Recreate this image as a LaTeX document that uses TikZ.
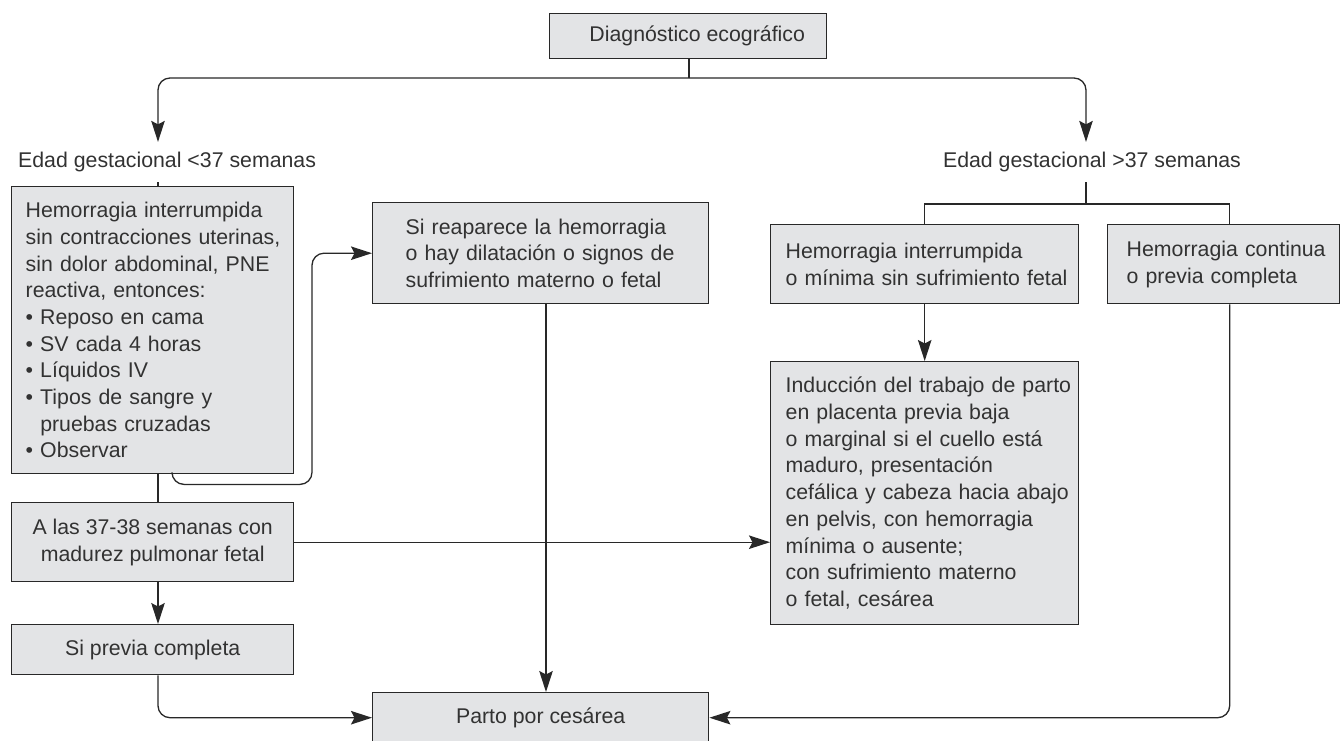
\documentclass[tikz,border=0pt]{standalone}
\usepackage{fontspec}
\setmainfont{Liberation Sans}
\usetikzlibrary{arrows.meta,positioning,calc}
\definecolor{boxgray}{RGB}{227,228,230}
\definecolor{inkgray}{RGB}{40,40,40}
\definecolor{textgray}{RGB}{50,50,50}
\newcommand{\bpt}{\textbullet\ }

\begin{document}
\begin{tikzpicture}[
  x=1pt,y=-1pt,
  font=\fontsize{21.3}{26.7}\selectfont,
  text=textgray,
  box/.style={draw=inkgray,fill=boxgray,line width=1.4pt,inner sep=0pt,
              anchor=north west,align=center},
  leftbox/.style={box,align=left,execute at begin node={\leftskip=#1}},
  lbl/.style={inner xsep=0pt,inner ysep=10pt},
  line/.style={inkgray,line width=1.3pt},
  arr/.style={line,-{Stealth[length=21pt,width=13.5pt,inset=3.5pt]}},
  roundbend/.style={rounded corners=12pt}
]
\useasboundingbox (0,0) rectangle (1341,740);
\node[box,minimum width=277pt,minimum height=45pt] (diag) at (549,13) {\hspace*{18pt}Diagnóstico ecográfico};
\node[lbl,anchor=west] (lblL) at (18,162) {Edad gestacional <37 semanas};
\node[lbl] (lblR) at (1092,162) {Edad gestacional >37 semanas};
\node[leftbox=14pt,text width=282pt,minimum height=287pt] (cond) at (11,186)
  {Hemorragia interrumpida\\ sin contracciones uterinas,\\ sin dolor abdominal, PNE\\
   reactiva, entonces:\\ \bpt Reposo en cama\\ \bpt SV cada 4 horas\\ \bpt Líquidos IV\\
   \bpt Tipos de sangre y\\ \hphantom{\bpt}pruebas cruzadas\\ \bpt Observar};
\node[leftbox=33pt,text width=336pt,minimum height=101pt] (reap) at (372,202)
  {Si reaparece la hemorragia\\ o hay dilatación o signos de\\ sufrimiento materno o fetal};
\node[box,minimum width=282pt,minimum height=79pt] (mature) at (11,502)
  {A las 37-38 semanas con\\ madurez pulmonar fetal};
\node[box,minimum width=282pt,minimum height=50pt] (full) at (11,624) {Si previa completa};
\node[box,minimum width=336pt,minimum height=50pt] (cs) at (372,692) {Parto por cesárea};
\node[leftbox=15pt,text width=308pt,minimum height=79pt] (stop) at (770,224)
  {Hemorragia interrumpida\\ o mínima sin sufrimiento fetal};
\node[leftbox=19pt,text width=232pt,minimum height=79pt] (cont) at (1107,224)
  {Hemorragia continua\\ o previa completa};
\node[leftbox=15pt,text width=308pt,minimum height=263pt] (induce) at (770,361)
  {Inducción del trabajo de parto\\ en placenta previa baja\\ o marginal si el cuello está\\
   maduro, presentación\\ cefálica y cabeza hacia abajo\\ en pelvis, con hemorragia\\
   mínima o ausente;\\ con sufrimiento materno\\ o fetal, cesárea};
\coordinate (fork) at (689,78);
\coordinate (colL) at (158,0);
\coordinate (colM) at (546,0);
\coordinate (colR) at (1086,0);
\coordinate (forkR) at (1086,204);
\draw[line] (diag.south -| fork) -- (fork);
\draw[arr,roundbend] (fork) -| (colL |- lblL.north);
\draw[arr,roundbend] (fork) -| (colR |- lblR.north);
% left column, under 37 weeks
\draw[line] (colL |- lblL.south) -- (colL |- cond.north);
\draw[line] (colL |- cond.south) -- (colL |- mature.north);
\draw[arr] (colL |- mature.south) -- (colL |- full.north);
\draw[arr,roundbend] (colL |- full.south) |- (cs.west);
\draw[arr,roundbend] ([xshift=161pt]cond.south west) -- ++(0,10) -| ([xshift=-60pt]reap.west) -- (reap.west);
\draw[arr] (colM |- reap.south) -- (colM |- cs.north);
\draw[arr] (mature.east) -- (mature.east -| induce.west);
% right column, over 37 weeks
\draw[line] (colR |- lblR.south) -- (forkR);
\draw[line] (stop.north) |- (forkR) -| ([xshift=6pt]cont.north);
\draw[arr] (stop) -- (induce);
\draw[arr,roundbend] ([xshift=6pt]cont.south) |- (cs.east);
\end{tikzpicture}
\end{document}
